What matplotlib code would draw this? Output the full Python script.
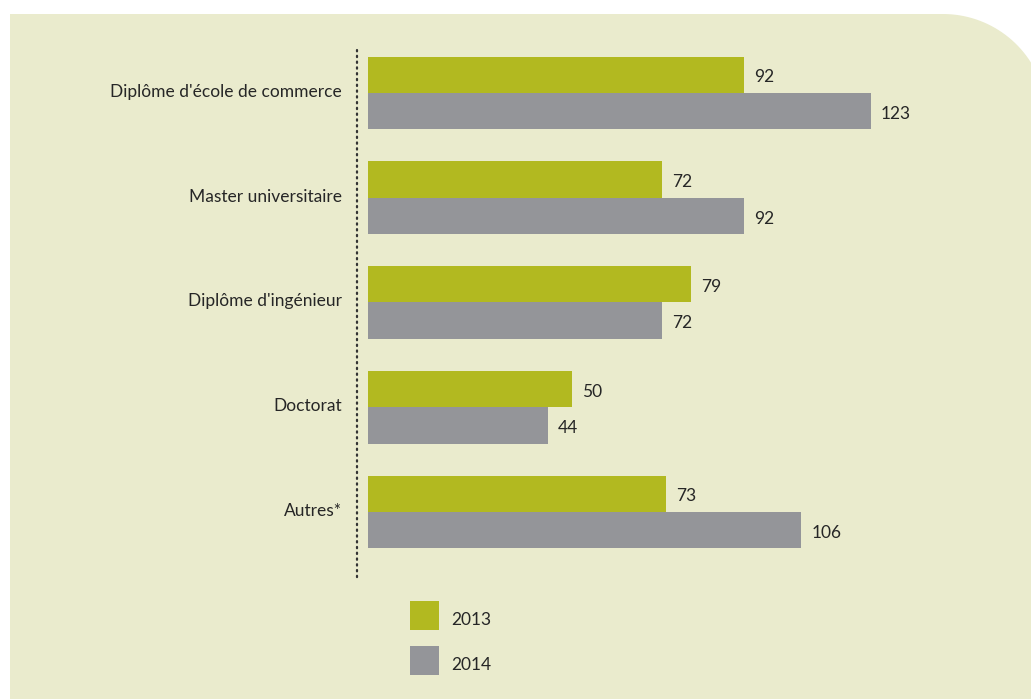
import matplotlib
matplotlib.use("Agg")
import matplotlib.pyplot as plt
from matplotlib.path import Path
from matplotlib.patches import PathPatch
from matplotlib.lines import Line2D
import numpy as np

categories = ["Diplôme d'école de commerce", "Master universitaire",
              "Diplôme d'ingénieur", "Doctorat", "Autres*"]
vals_2013 = [92, 72, 79, 50, 73]
vals_2014 = [123, 92, 72, 44, 106]
years = ["2013", "2014"]

GREEN = "#b2b920"
GRAY = "#949599"
BG = "#eaebcd"
TXT = "#262626"
FS = 12.5

W, H = 1031, 699
fig = plt.figure(figsize=(W / 100, H / 100), dpi=100)
plt.rcParams['font.family'] = ['Lato', 'DejaVu Sans']


def px(x, y):
    # pixel (top-left origin) -> figure fraction
    return x / W, 1 - y / H


# background panel, rounded top-right corner
r = 104
cx, cy = 943, 14 + r
theta = np.linspace(np.pi / 2, 0, 40)
arc = [(cx + r * np.cos(t), cy - r * np.sin(t)) for t in theta]
verts = [(10, H + 5), (10, 14)] + arc + [(cx + r, H + 5), (10, H + 5)]
verts = [px(x, y) for x, y in verts]
codes = [Path.MOVETO] + [Path.LINETO] * (len(verts) - 2) + [Path.CLOSEPOLY]
fig.patches.append(PathPatch(Path(verts, codes), facecolor=BG, edgecolor="none",
                             transform=fig.transFigure, zorder=-5))

# axes placed in pixel space
scale = 4.087  # px per unit
ax_left, ax_right = 357, W
ax_top, ax_bot = 40.6, 40.6 + 104.75 * 5
x0, y0 = px(ax_left, ax_bot)
ax = fig.add_axes([x0, y0, (ax_right - ax_left) / W, (ax_bot - ax_top) / H])
ax.set_zorder(2)
ax.set_facecolor("none")
ax.patch.set_visible(False)
ax.set_xlim(-(368 - ax_left) / scale, -(368 - ax_left) / scale + (ax_right - ax_left) / scale)
ax.set_ylim(4.5, -0.5)
for s in ax.spines.values():
    s.set_visible(False)
ax.set_xticks([])
ax.set_yticks([])

pos = np.arange(len(categories))
h = 0.348
b1 = ax.barh(pos - h / 2, vals_2013, height=h, color=GREEN)
b2 = ax.barh(pos + h / 2, vals_2014, height=h, color=GRAY)
for bars, vals in ((b1, vals_2013), (b2, vals_2014)):
    for rect, v in zip(bars, vals):
        ax.text(v + 10 / scale, rect.get_y() + rect.get_height() / 2 + 0.025, str(v),
                ha="left", va="center", fontsize=FS, color=TXT, clip_on=False)

for i, c in enumerate(categories):
    ax.text(-(368 - 342) / scale, i - 0.01, c, ha="right", va="center",
            fontsize=FS, color=TXT, clip_on=False)

# dotted separator
fig.add_artist(Line2D([357 / W, 357 / W], [1 - 50 / H, 1 - 578 / H],
                      transform=fig.transFigure, color="#333333", lw=1.6,
                      linestyle=(0, (0.6, 2.0)), dash_capstyle="round", zorder=3))

# legend
for (col, lab, ty) in ((GREEN, years[0], 601), (GRAY, years[1], 646)):
    lx, ly = px(410, ty + 29)
    fig.patches.append(plt.Rectangle((lx, ly), 29 / W, 29 / H, facecolor=col,
                                     edgecolor="none", transform=fig.transFigure, zorder=3))
    tx, tyy = px(451, ty + 19)
    fig.text(tx, tyy, lab, ha="left", va="center", fontsize=FS, color=TXT, zorder=3)

fig.savefig("out.png", dpi=100, facecolor="white")
